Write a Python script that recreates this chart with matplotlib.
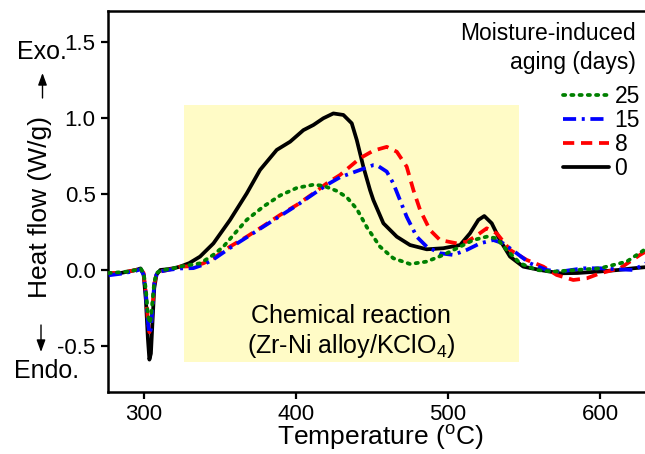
import matplotlib
matplotlib.use("Agg")
import matplotlib.pyplot as plt
from matplotlib.patches import Rectangle, FancyArrowPatch

plt.rcParams['font.family'] = ['Liberation Sans', 'DejaVu Sans']
plt.rcParams['mathtext.fontset'] = 'custom'
plt.rcParams['mathtext.rm'] = 'Liberation Sans'
plt.rcParams['mathtext.it'] = 'Liberation Sans:italic'
plt.rcParams['axes.unicode_minus'] = False

# ---------------- data ----------------
T0 = [277, 285, 290, 295, 298, 300, 301.5, 302.8, 303.8, 304.8, 305.8, 307, 308.5, 311, 316, 320,
      324, 330, 337.1, 345.9, 356.8, 367.8, 376.5, 387.5, 396.3, 405, 411.6, 418.1, 424.7, 431.3,
      436.8, 440.1, 444.4, 448.8, 451, 457.6, 466.4, 475.1, 486.1, 497, 508, 514.5, 520, 523.9,
      528.8, 534.2, 540.8, 549.5, 560.5, 573.7, 585, 600, 612, 621.8, 631.5]
H0 = [-0.025, -0.02, -0.01, 0.0, 0.01, -0.03, -0.2, -0.45, -0.59, -0.55, -0.35, -0.12, -0.03, 0.0, 0.005, 0.012,
      0.022, 0.045, 0.088, 0.175, 0.329, 0.504, 0.658, 0.79, 0.844, 0.92, 0.954, 0.998, 1.03, 1.02,
      0.965, 0.855, 0.68, 0.526, 0.46, 0.307, 0.219, 0.164, 0.136, 0.143, 0.164, 0.241, 0.329, 0.355,
      0.307, 0.197, 0.088, 0.022, 0.0, -0.022, -0.02, -0.01, 0.0, 0.011, 0.02]

T8 = [277, 285, 290, 295, 298, 300, 301.5, 302.8, 303.8, 304.8, 305.8, 307, 308.5, 311, 316, 320,
      324, 332.7, 339.3, 345.9, 356.8, 367.8, 378.7, 389.7, 400.7, 411.6, 420.4, 429.1, 442.2, 451,
      459.8, 466.4, 472.9, 477.3, 481.7, 488.2, 494.8, 505.8, 512.4, 517.8, 525.5, 532.1, 540.8,
      551.8, 562.7, 571.5, 582.4, 591.2, 600, 613.1, 626.2, 631.5]
H8 = [-0.02, -0.02, -0.01, 0.0, 0.01, -0.02, -0.15, -0.33, -0.41, -0.38, -0.25, -0.09, -0.025, -0.01, 0.0, 0.01,
      0.022, 0.025, 0.044, 0.077, 0.154, 0.219, 0.289, 0.362, 0.428, 0.504, 0.57, 0.625, 0.735, 0.785,
      0.81, 0.778, 0.68, 0.526, 0.395, 0.263, 0.197, 0.175, 0.186, 0.219, 0.274, 0.241, 0.132,
      0.066, 0.022, -0.033, -0.066, -0.055, -0.022, 0.011, 0.099, 0.13]

T15 = [277, 285, 290, 295, 298, 300, 301.5, 302.8, 303.8, 304.8, 305.8, 307, 308.5, 311, 316, 320,
       324, 332.7, 339.3, 345.9, 356.8, 367.8, 378.7, 389.7, 400.7, 411.6, 420.4, 429.1, 442.2, 451,
       453.2, 459.8, 464.1, 468.5, 472.9, 479.5, 486.1, 494.8, 503.5, 512.4, 521.1, 529.8, 536.4,
       545.2, 553.9, 564.9, 573.7, 588.9, 600, 610, 621.8, 631.5]
H15 = [-0.035, -0.025, -0.015, -0.005, 0.005, -0.03, -0.16, -0.34, -0.42, -0.39, -0.26, -0.09, -0.03, -0.01, 0.0, 0.005,
       0.01, 0.012, 0.035, 0.07, 0.145, 0.215, 0.285, 0.355, 0.425, 0.5, 0.56, 0.61, 0.658, 0.69,
       0.69, 0.647, 0.57, 0.46, 0.35, 0.219, 0.153, 0.11, 0.099, 0.132, 0.175, 0.197, 0.175,
       0.11, 0.044, 0.0, -0.011, 0.011, 0.011, 0.005, 0.0, 0.05]

T25 = [277, 285, 290, 295, 298, 300, 301.5, 302.8, 303.8, 304.8, 305.8, 307, 308.5, 311, 316, 320,
       324, 337.3, 345.9, 352.5, 359, 367.8, 378.7, 389.7, 400.7, 411.6, 418.2, 427, 433.6, 440.2,
       446.8, 455.4, 464.1, 475.1, 486.1, 497, 508, 516.7, 525.5, 532.1, 538.6, 547.4, 558.3,
       569.3, 584.6, 600, 617.5, 627.3, 631.5]
H25 = [-0.02, -0.015, -0.01, 0.0, 0.01, -0.02, -0.13, -0.29, -0.35, -0.32, -0.21, -0.08, -0.02, -0.005, 0.005, 0.012,
       0.022, 0.044, 0.1, 0.154, 0.23, 0.33, 0.417, 0.49, 0.54, 0.561, 0.554, 0.52, 0.478, 0.4,
       0.28, 0.153, 0.077, 0.039, 0.055, 0.099, 0.153, 0.197, 0.219, 0.208, 0.132, 0.044, 0.0,
       -0.011, 0.0, 0.011, 0.055, 0.12, 0.15]

labels = ['0', '8', '15', '25']
colors = ['black', '#FF0000', '#0000FF', '#008000']
styles = ['-', (0, (3.0, 1.8)), (0, (3.5, 1.5, 0.8, 1.5)), (0, (0.6, 1.6))]

xticks = [300, 400, 500, 600]
yticks = [-0.5, 0.0, 0.5, 1.0, 1.5]
ytick_labels = ['-0.5', '0.0', '0.5', '1.0', '1.5']

region_x = [326.5, 546.6]
region_y = [-0.605, 1.085]

# ---------------- figure ----------------
W, H = 645, 454
fig = plt.figure(figsize=(W / 100, H / 100), dpi=100)
ax = fig.add_axes([108 / W, (H - 392) / H, (648 - 108) / W, (392 - 11) / H])

ax.add_patch(Rectangle((region_x[0], region_y[0]), region_x[1] - region_x[0],
                       region_y[1] - region_y[0], facecolor='#FFFBC6', edgecolor='none', zorder=0))

series = [(T0, H0), (T8, H8), (T15, H15), (T25, H25)]
handles = []
for (t, h), lab, c, ls in zip(series, labels, colors, styles):
    cap = 'round' if lab == '25' else 'butt'
    ln, = ax.plot(t, h, color=c, linestyle=ls, lw=2.7, label=lab, solid_capstyle='round',
                  dash_capstyle=cap, zorder=3)
    handles.append(ln)

ax.set_xlim(276.6, 631.5)
ax.set_ylim(-0.803, 1.704)
ax.set_xticks(xticks)
ax.set_yticks(yticks)
ax.set_yticklabels(ytick_labels)
ax.tick_params(axis='both', direction='out', length=5, width=1.6, labelsize=16, pad=4)
for s in ax.spines.values():
    s.set_linewidth(1.8)

# legend title (two right-aligned lines) and legend entries
fig.text(636 / W, 1 - 33 / H, 'Moisture-induced', ha='right', va='center', fontsize=16.5)
fig.text(636 / W, 1 - 62 / H, 'aging (days)', ha='right', va='center', fontsize=16.5)
leg = ax.legend(handles[::-1], labels[::-1], loc='upper right',
                bbox_to_anchor=(640 / W, 1 - 85 / H), bbox_transform=fig.transFigure,
                frameon=False, fontsize=16.5, handlelength=2.0, handletextpad=0.25,
                labelspacing=0.05, borderpad=0.0, borderaxespad=0.0)

ax.text(sum(region_x) / 2, -0.3, 'Chemical reaction', ha='center', va='center', fontsize=18)
ax.text(sum(region_x) / 2, -0.5, '(Zr-Ni alloy/KClO$_4$)', ha='center', va='center', fontsize=18)

fig.text(40 / W, 1 - 207 / H, 'Heat flow (W/g)', rotation=90, ha='center', va='center', fontsize=19)
fig.text(380 / W, 1 - 438 / H, 'Temperature ($^\\mathrm{o}$C)', ha='center', va='center', fontsize=19)
fig.text(42 / W, 1 - 52 / H, 'Exo.', ha='center', va='center', fontsize=18)
fig.text(47 / W, 1 - 371 / H, 'Endo.', ha='center', va='center', fontsize=18)

ap = dict(arrowstyle='-|>,head_length=0.6,head_width=0.22', color='black', lw=1.0,
          mutation_scale=12, shrinkA=0, shrinkB=0)
fig.add_artist(FancyArrowPatch((42.5, H - 98), (42.5, H - 73), transform=None, **ap))
fig.add_artist(FancyArrowPatch((41, H - 325), (41, H - 352), transform=None, **ap))

fig.savefig('out.png', dpi=100)
